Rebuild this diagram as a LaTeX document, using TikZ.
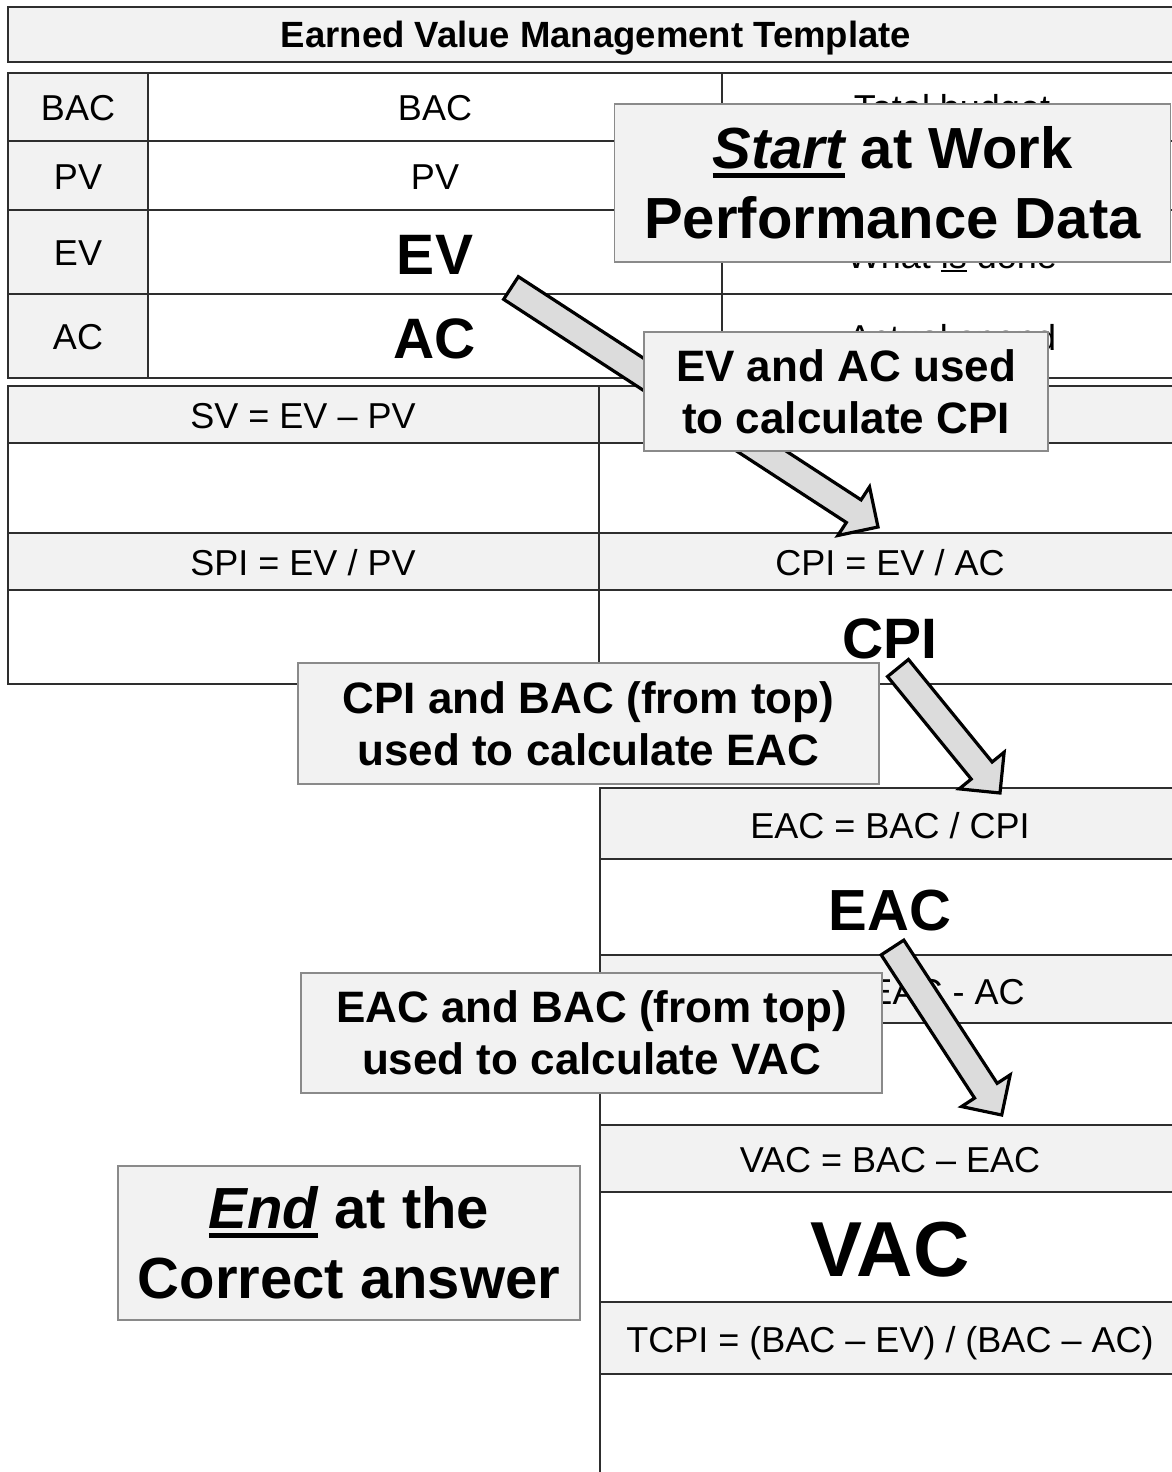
\documentclass[tikz,border=0pt]{standalone}
\usepackage{fontspec}
\setmainfont{Liberation Sans}
\usetikzlibrary{calc}
\definecolor{hdr}{HTML}{F2F2F2}
\definecolor{arrfill}{HTML}{DCDCDC}
\definecolor{boxline}{HTML}{8A8A8A}
\definecolor{gridline}{HTML}{2E2E2E}
\newcommand\fsz[2]{\fontsize{#1}{#2}\selectfont}
\newcommand\ulbox[3]{\setbox0=\hbox{#3}\rlap{\rule[-#1]{\wd0}{#2}}\box0\relax}
\newcommand\blockarrow[2]{%
  \coordinate (hb) at ($(#2)!29pt!(#1)$);
  \draw[blockarr] ($(#1)!13.5pt!90:(#2)$) -- ($(hb)!13.5pt!90:(#2)$) -- ($(hb)!29pt!90:(#2)$)
    -- (#2) -- ($(hb)!29pt!-90:(#2)$) -- ($(hb)!13.5pt!-90:(#2)$) -- ($(#1)!13.5pt!-90:(#2)$) -- cycle;}
\tikzset{
  gridl/.style={draw=gridline, line width=1.6pt},
  hdrfill/.style={fill=hdr},
  tabtxt/.style={anchor=base, inner sep=0pt, font=\fsz{36}{43}},
  bigtxt/.style={anchor=base, inner sep=0pt, font=\fsz{57}{64}\bfseries},
  callout/.style={draw=boxline, line width=1.6pt, fill=hdr, align=center, inner sep=0pt},
  blockarr/.style={draw=black, line width=3.2pt, fill=arrfill, line join=miter}
}
\begin{document}
\begin{tikzpicture}[x=1pt, y=-1pt]
\useasboundingbox (0,0) rectangle (1172,1472);
\fill[white] (0,0) rectangle (1172,1472);
\clip (0,0) rectangle (1172,1472);

% title bar
\path[gridl, hdrfill] (8,7) rectangle (1195,62);
\node[anchor=base, inner sep=0pt, font=\fsz{36.5}{43}\bfseries] (title) at (596,48) {Earned Value Management Template};

% table 1
\fill[hdr] (8,73) rectangle (148,378);
\draw[gridl] (8,73) rectangle (1195,378);
\draw[gridl] (148,73) -- (148,378) (722,73) -- (722,378);
\draw[gridl] (8,141) -- (1195,141) (8,210) -- (1195,210) (8,294) -- (1195,294);
\node[tabtxt] (l1) at (78,120) {BAC};
\node[tabtxt] (l2) at (78,189) {PV};
\node[tabtxt] (l3) at (78,265) {EV};
\node[tabtxt] (l4) at (78,349) {AC};
\node[tabtxt] (v1) at (435,120) {BAC};
\node[tabtxt] (v2) at (435,189) {PV};
\node[bigtxt] (v3) at (435,274) {EV};
\node[bigtxt] (v4) at (435,358) {AC};
\node[tabtxt] (d1) at (952,120) {Total budget};
\node[tabtxt] (d3) at (952,268) {What \ulbox{4pt}{2.5pt}{is} done};
\node[tabtxt] (d4) at (952,350) {Actual spend};

% table 2
\fill[hdr] (8,386) rectangle (1195,443);
\fill[hdr] (8,533) rectangle (1195,590);
\draw[gridl] (8,386) rectangle (1195,684);
\draw[gridl] (599,386) -- (599,684);
\draw[gridl] (8,443) -- (1195,443) (8,533) -- (1195,533) (8,590) -- (1195,590);
\node[tabtxt] (sv) at (303,428) {SV = EV – PV};
\node[tabtxt] (spi) at (303,575) {SPI = EV / PV};
\node[tabtxt] (cpif) at (890,575) {CPI = EV / AC};
\node[bigtxt] (cpi) at (890,658) {CPI};

% table 3
\fill[hdr] (600,788) rectangle (1195,859);
\fill[hdr] (600,955) rectangle (1195,1023);
\fill[hdr] (600,1125) rectangle (1195,1192);
\fill[hdr] (600,1302) rectangle (1195,1374);
\draw[gridl] (1195,788) -- (600,788) -- (600,1480);
\draw[gridl] (600,859) -- (1195,859) (600,955) -- (1195,955) (600,1023) -- (1195,1023)
  (600,1125) -- (1195,1125) (600,1192) -- (1195,1192) (600,1302) -- (1195,1302) (600,1374) -- (1195,1374);
\node[tabtxt] (eacf) at (890,838) {EAC = BAC / CPI};
\node[bigtxt, font=\fsz{58}{64}\bfseries] (eac) at (890,930) {EAC};
\node[tabtxt] (etcf) at (890,1004) {ETC = EAC - AC};
\node[tabtxt] (vacf) at (890,1172) {VAC = BAC – EAC};
\node[bigtxt, font=\fsz{78}{86}\bfseries] (vac) at (890,1276) {VAC};
\node[tabtxt] (tcpif) at (890,1352) {TCPI = (BAC – EV) / (BAC – AC)};

% block arrows
\coordinate (a1s) at (511,288); \coordinate (a1e) at (878,527);
\coordinate (a2s) at (898,668); \coordinate (a2e) at (1000,793);
\coordinate (a3s) at (892.5,947.5); \coordinate (a3e) at (1001.7,1115);
\blockarrow{a1s}{a1e}
\blockarrow{a2s}{a2e}
\blockarrow{a3s}{a3e}

% callouts
\node[callout, minimum width=556pt, minimum height=158pt, font=\fsz{58}{70}\bfseries] (start) at (892.5,183)
  {\ulbox{9pt}{4.5pt}{\itshape Start} at Work\\Performance Data};
\node[callout, minimum width=404pt, minimum height=119pt, font=\fsz{44}{52}\bfseries] (evac) at (846,391.5)
  {EV and AC used\\to calculate CPI};
\node[callout, minimum width=581pt, minimum height=121pt, font=\fsz{44}{52}\bfseries] (cpibac) at (588.5,723.5)
  {CPI and BAC (from top)\\used to calculate EAC};
\node[callout, minimum width=581pt, minimum height=120pt, font=\fsz{44}{52}\bfseries] (eacbac) at (591.5,1033)
  {EAC and BAC (from top)\\used to calculate VAC};
\node[callout, minimum width=462pt, minimum height=154pt, font=\fsz{58}{70}\bfseries] (end) at (349,1243)
  {\ulbox{9pt}{4.5pt}{\itshape End} at the\\Correct answer};
\end{tikzpicture}
\end{document}
